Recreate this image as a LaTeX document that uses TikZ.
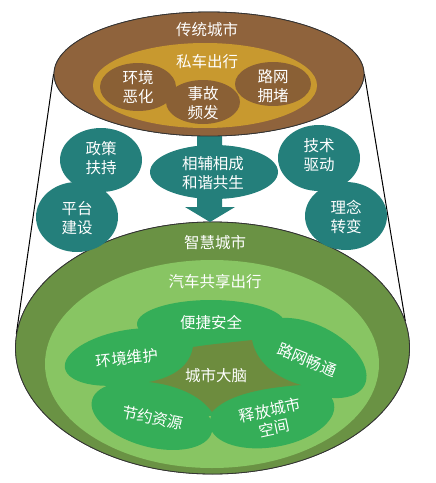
\documentclass[tikz,border=0pt]{standalone}
\usepackage{fontspec}
\newfontfamily\cjk{Noto Sans CJK SC}
\usetikzlibrary{shapes.geometric}
\definecolor{brownA}{HTML}{8F633C}
\definecolor{goldA}{HTML}{C8992F}
\definecolor{brownB}{HTML}{8A6035}
\definecolor{tealA}{HTML}{247F7B}
\definecolor{greenDark}{HTML}{6A9244}
\definecolor{greenLight}{HTML}{88C563}
\definecolor{greenBlob}{HTML}{35AE58}
\definecolor{olive}{HTML}{6D8C3E}
\tikzset{
  ell/.style={ellipse, inner sep=0pt, minimum width=#1},
  lbl/.style={text=white, align=center, inner sep=0pt, font=\cjk\fontsize{15.5}{18.5}\selectfont},
  rim/.style={draw=black!80, line width=0.8pt},
  edge/.style={draw=black, line width=1pt}
}
\begin{document}
\begin{tikzpicture}[x=1pt,y=-1pt]
\useasboundingbox (0,0) rectangle (436,483);
% bottom and top ellipses (nodes, for the side lines)
\node[ell=394pt, minimum height=252pt, fill=greenDark, rim] (green) at (212.5,348) {};
\node[ell=310pt, minimum height=124pt, fill=brownA, rim] (brown) at (209,74) {};
% side lines
\draw[edge] (brown.west) -- (green.176);
\draw[edge] (brown.east) -- (green.8);
% redraw ellipses over the lines
\node[ell=394pt, minimum height=252pt, fill=greenDark, rim] at (212.5,348) {};
% arrow shaft + head
\fill[tealA] (197,130) -- (222,130) -- (222,207) -- (235,207) -- (210,222) -- (185,207) -- (197,207) -- cycle;
\node[ell=310pt, minimum height=124pt, fill=brownA, rim] at (209,74) {};
% top: inner gold ellipse and small brown circles
\node[ell=224pt, minimum height=85pt, fill=goldA] (gold) at (205,85.5) {};
\node[ell=76pt, minimum height=48pt, fill=brownB] (c1) at (138,87) {};
\node[ell=76pt, minimum height=44pt, fill=brownB] (c3) at (273,84) {};
\node[ell=74pt, minimum height=44pt, fill=brownB] (c2) at (203,102) {};
\node[lbl] (t0) at (207,30) {传统城市};
\node[lbl] (t1) at (207,62) {私车出行};
\node[lbl] (t2) at (138,87) {环境\\恶化};
\node[lbl] (t3) at (203,103) {事故\\频发};
\node[lbl] (t4) at (273,86) {路网\\拥堵};
% middle teal ellipse
\node[ell=128pt, minimum height=54pt, fill=tealA] (mid) at (214,172) {};
\node[lbl] (tm) at (213,173) {相辅相成\\和谐共生};
% bottom: light green ellipse
\node[ell=334pt, minimum height=208pt, fill=greenLight] (light) at (212,364) {};
\node[lbl] (g0) at (215,243) {智慧城市};
\node[lbl] (g1) at (215,282) {汽车共享出行};
% green blobs (cloud)
\node[ell=180pt, minimum height=80pt, fill=greenBlob] (core) at (215,376) {};
\node[ell=148pt, minimum height=48pt, fill=greenBlob] (b1) at (211,324) {};
\node[ell=128pt, minimum height=54pt, fill=greenBlob, rotate=10] (b2) at (128,357) {};
\node[ell=120pt, minimum height=66pt, fill=greenBlob, rotate=-27] (b3) at (311,358) {};
\node[ell=124pt, minimum height=62pt, fill=greenBlob, rotate=-15] (b4) at (152,416) {};
\node[ell=126pt, minimum height=64pt, fill=greenBlob, rotate=10] (b5) at (272,415) {};
% central four-pointed region
\fill[olive] (149,382) .. controls (175,377) and (190,365) .. (193,347)
  .. controls (212,344) and (235,342) .. (252,340)
  .. controls (256,362) and (276,378) .. (301,385)
  .. controls (258,388) and (226,396) .. (212,412)
  .. controls (200,395) and (176,385) .. cycle;
\node[lbl] (s1) at (211,323) {便捷安全};
\node[lbl, rotate=6] (s2) at (127,358) {环境维护};
\node[lbl, rotate=-22] (s3) at (307,360) {路网畅通};
\node[lbl] (s0) at (216,376) {城市大脑};
\node[lbl, rotate=-12] (s4) at (153,418) {节约资源};
\node[lbl, rotate=12] (s5) at (272,419) {释放城市\\空间};
% teal circles
\node[ell=82pt, minimum height=64pt, fill=tealA] (p1) at (101,160) {};
\node[ell=82pt, minimum height=70pt, fill=tealA] (p2) at (77,217) {};
\node[ell=82pt, minimum height=66pt, fill=tealA] (p3) at (319,158) {};
\node[ell=82pt, minimum height=68pt, fill=tealA] (p4) at (346,216) {};
\node[lbl] (q1) at (101,158) {政策\\扶持};
\node[lbl] (q2) at (77,218) {平台\\建设};
\node[lbl] (q3) at (319,155) {技术\\驱动};
\node[lbl] (q4) at (346,217) {理念\\转变};
\end{tikzpicture}
\end{document}
